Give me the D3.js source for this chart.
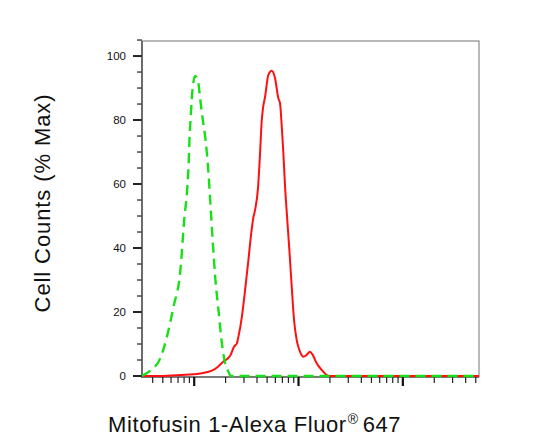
<!DOCTYPE html>
<html><head><meta charset="utf-8">
<script src="https://cdn.jsdelivr.net/npm/d3@7"></script>
<style>body{margin:0;background:#fff}svg{display:block}text{font-family:"Liberation Sans",Arial,sans-serif}</style>
</head><body>
<script>
// Isotype control (green dashed): [intensity, % max]
const controlX = [31.6,37.9,47.3,54.8,63.4,73.5,80.7,85.1,88.2,90.1,93.0,96.3,102.2,104.5,110,114,121,127.4,132.4,137.1,142.3,151,158.9,170.9,184.2,198,213,226,53700];
const controlY = [0,1.7,5.5,12.3,21.7,32.6,49.8,57.1,65.4,73.8,82.1,89.4,93.8,93.5,91.3,86.8,80,74.8,69.6,63.3,55,41.5,31,20.6,10.2,4,1.3,0,0];
// Mitofusin 1 stained (red solid)
const sampleX = [31.6,47.3,73.5,114,153,190.7,221,241.5,256.4,265.6,286.3,307.7,331,349,369,383.5,409,428,444.6,457,477.5,514,554,596,641,665,691,716,743,771,817,861,906,961,1033,1112,1198,1288,1367,1493,1667,1862,1972,53700];
const sampleY = [0,0,0.3,0.8,1.9,4.5,6.3,9.2,10.2,12.3,18.5,26.9,36.3,43.5,49.5,51.9,58.8,69.7,80,83.8,87.2,94.1,95.4,93,86.8,85.2,77.9,69.6,59.2,51.2,39.4,27.9,17.5,11.2,7.6,6,6.6,7.6,6.6,4,1.9,0.3,0,0];
const yTicks = [0,20,40,60,80,100];
const xMajor = [100,1000,10000];
const xTitle = "Mitofusin 1-Alexa Fluor";
const yTitle = "Cell Counts (% Max)";

const W = 551, H = 447;
const svg = d3.select("body").append("svg").attr("width", W).attr("height", H);
const x = d3.scaleLog().domain([31.6, 53700]).range([142, 479]);
const y = d3.scaleLinear().domain([0, 104.7]).range([376, 41]);

// frame
svg.append("rect").attr("x", 142).attr("y", 41).attr("width", 337).attr("height", 336)
  .attr("fill", "none").attr("stroke", "#8a8a8a").attr("stroke-width", 1.2);

// y axis ticks
const yMinor = d3.range(0, 106, 5);
const gy = svg.append("g");
gy.selectAll("line.mn").data(yMinor).join("line")
  .attr("x1", d => yTicks.includes(d) ? 133 : 137).attr("x2", 142)
  .attr("y1", d => y(d)).attr("y2", d => y(d))
  .attr("stroke", "#222").attr("stroke-width", d => yTicks.includes(d) ? 2 : 1.2);
gy.append("line").attr("x1", 142).attr("x2", 142).attr("y1", 41).attr("y2", 378).attr("stroke", "#444").attr("stroke-width", 1.3);
gy.selectAll("text").data(yTicks).join("text")
  .attr("x", 126).attr("y", d => y(d)).attr("dy", "0.35em").attr("text-anchor", "end")
  .attr("font-size", 11.5).attr("fill", "#111").text(d => d);

// x axis ticks
const xMinor = [];
[10,100,1000,10000].forEach(dec => { for (let k = 2; k <= 9; k++) { const v = dec*k; if (v > 31.6 && v < 53700) xMinor.push(v); } });
const gx = svg.append("g");
gx.append("line").attr("x1", 142).attr("x2", 479).attr("y1", 377).attr("y2", 377).attr("stroke", "#666").attr("stroke-width", 1.5);
gx.selectAll("line.mn").data(xMinor).join("line")
  .attr("x1", d => x(d)).attr("x2", d => x(d)).attr("y1", 377).attr("y2", 383)
  .attr("stroke", "#222").attr("stroke-width", 1.2);
gx.selectAll("line.mj").data(xMajor).join("line")
  .attr("x1", d => x(d)).attr("x2", d => x(d)).attr("y1", 377).attr("y2", 386)
  .attr("stroke", "#111").attr("stroke-width", 2.2);

// curves
const line = d3.line().x(d => x(d[0])).y(d => y(d[1])).curve(d3.curveMonotoneX);
svg.append("path").datum(d3.zip(sampleX, sampleY)).attr("d", line)
  .attr("fill", "none").attr("stroke", "#ff1010").attr("stroke-width", 2);
svg.append("path").datum(d3.zip(controlX, controlY)).attr("d", line)
  .attr("fill", "none").attr("stroke", "#18e018").attr("stroke-width", 2.4)
  .attr("stroke-dasharray", "10,6");

// titles
const xt = svg.append("text").attr("x", 108).attr("y", 432).attr("font-size", 22)
  .attr("letter-spacing", 0.6).attr("fill", "#111");
xt.append("tspan").text(xTitle);
xt.append("tspan").attr("font-size", 14).attr("dy", -8).attr("dx", 1).text("®");
xt.append("tspan").attr("dy", 8).attr("dx", 4).text("647");
svg.append("text").attr("transform", "translate(50,203) rotate(-90)").attr("text-anchor", "middle")
  .attr("font-size", 22).attr("letter-spacing", 0.9).attr("fill", "#111").text(yTitle);
</script>
</body></html>
